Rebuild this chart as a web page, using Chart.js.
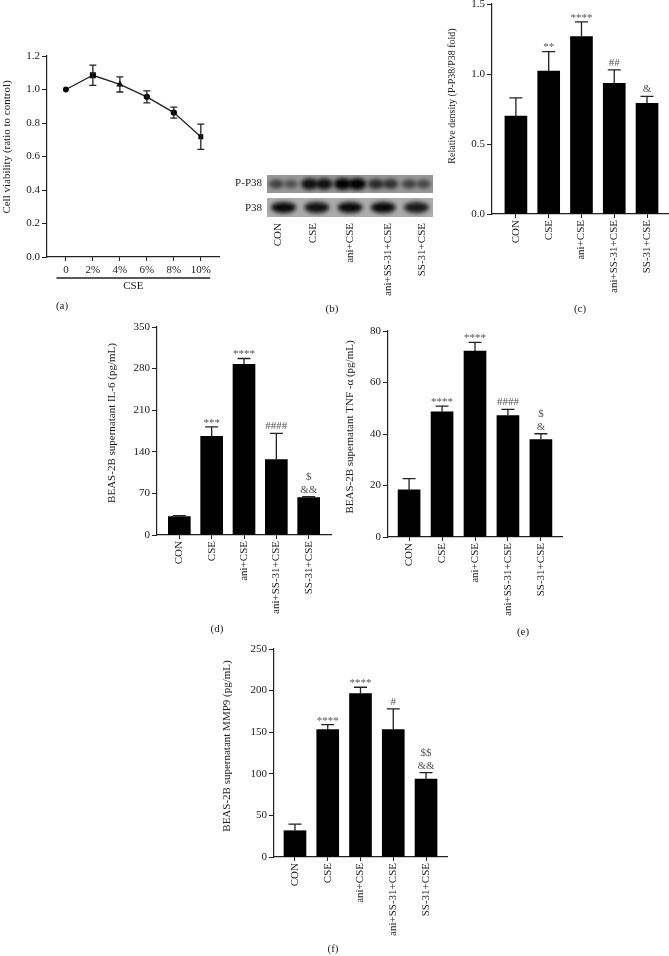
<!DOCTYPE html>
<html>
<head>
<meta charset="utf-8">
<script src="https://cdn.jsdelivr.net/npm/chart.js@4.4.1/dist/chart.umd.min.js"></script>
<style>
  body { margin: 0; background: #fff; }
  #page { position: relative; width: 669px; height: 956px; overflow: hidden; font-family: 'Liberation Serif', 'Times New Roman', serif; }
  canvas { position: absolute; }
  .tag { position: absolute; font-size: 11px; color: #222; transform: translate(-50%, -50%); }
</style>
</head>
<body>
<div id="page">
  <canvas id="ca" width="225" height="260" style="left:0;top:40px"></canvas>
  <canvas id="cb" width="240" height="150" style="left:200px;top:160px"></canvas>
  <canvas id="cc" width="249" height="306" style="left:420px;top:-6px"></canvas>
  <canvas id="cd" width="275" height="306" style="left:60px;top:317px"></canvas>
  <canvas id="ce" width="227" height="306" style="left:340px;top:321px"></canvas>
  <canvas id="cf" width="237" height="306" style="left:215px;top:639px"></canvas>
  <div class="tag" style="left:62px;top:305px">(a)</div>
  <div class="tag" style="left:332px;top:308px">(b)</div>
  <div class="tag" style="left:580px;top:308px">(c)</div>
  <div class="tag" style="left:217px;top:628px">(d)</div>
  <div class="tag" style="left:523px;top:631px">(e)</div>
  <div class="tag" style="left:333px;top:948px">(f)</div>
</div>
<script>
// groups on the x axis of panels b-f
const groups = ['CON', 'CSE', 'ani+CSE', 'ani+SS-31+CSE', 'SS-31+CSE'];

// (a) cell viability vs CSE dose
const cseDoses = ['0', '2%', '4%', '6%', '8%', '10%'];
const viability = [1.0, 1.085, 1.03, 0.956, 0.862, 0.718];
const viabilityErr = [0, 0.06, 0.045, 0.036, 0.033, 0.075];

// (b) blot band strength per lane (two wells per lane for P-P38)
const pP38Bands = [[0.6, 0.5], [0.9, 0.9], [1, 1], [0.75, 0.7], [0.6, 0.55]];
const p38Bands = [0.95, 0.9, 0.95, 0.95, 0.85];

// (c) relative density
const density = [0.70, 1.02, 1.267, 0.934, 0.79];
const densityErr = [0.13, 0.14, 0.105, 0.095, 0.05];
const densityMarks = ['', '**', '****', '##', '&'];

// (d) IL-6
const il6 = [31, 166, 287, 127, 63];
const il6Err = [1.5, 16, 10, 44, 1.5];
const il6Marks = ['', '***', '****', '####', '$\n&&'];

// (e) TNF-a
const tnf = [18.3, 48.6, 72.2, 47.2, 37.8];
const tnfErr = [4.4, 2.2, 3.4, 2.4, 2.3];
const tnfMarks = ['', '****', '****', '####', '$\n&'];

// (f) MMP9
const mmp9 = [31.6, 153, 196.3, 153, 93.8];
const mmp9Err = [8, 6, 7.7, 25, 7.6];
const mmp9Marks = ['', '****', '****', '#', '$$\n&&'];

Chart.defaults.font.family = "'Liberation Serif', 'Times New Roman', serif";
Chart.defaults.font.size = 11;
Chart.defaults.color = '#1a1a1a';

// error bars, significance marks, y title and the CSE bracket
const errPlugin = {
    id: 'errbars',
    afterDatasetsDraw(chart) {
        const ctx = chart.ctx;
        const xs = chart.scales.x, ys = chart.scales.y;
        const ds = chart.data.datasets[0];
        ctx.save();
        ctx.strokeStyle = '#222';
        ctx.lineWidth = 1.3;
        ds.data.forEach((p, i) => {
            const e = ds.errs[i];
            const x = xs.getPixelForValue(p.x);
            const yT = ys.getPixelForValue(p.y + e);
            if (e) {
                const yB = ys.getPixelForValue(ds.both ? p.y - e : p.y);
                ctx.beginPath();
                ctx.moveTo(x, yB); ctx.lineTo(x, yT);
                ctx.moveTo(x - ds.cap, yT); ctx.lineTo(x + ds.cap, yT);
                if (ds.both) { ctx.moveTo(x - ds.cap, yB); ctx.lineTo(x + ds.cap, yB); }
                ctx.stroke();
            }
            const m = (ds.marks || [])[i];
            if (m) {
                const lines = m.split('\n');
                ctx.fillStyle = '#555';
                ctx.font = "11px 'Liberation Serif', serif";
                ctx.textAlign = 'center';
                ctx.textBaseline = 'middle';
                lines.reverse().forEach((t, k) => {
                    const dy = t.indexOf('*') >= 0 ? 4 : 7;
                    ctx.fillText(t, x, yT - dy - k * 12.5);
                });
            }
        });
        if (ds.bracket) {
            const yl = chart.chartArea.bottom + 21;
            ctx.beginPath();
            ctx.moveTo(xs.getPixelForValue(-0.35), yl);
            ctx.lineTo(xs.getPixelForValue(5.35), yl);
            ctx.stroke();
            ctx.fillStyle = '#1a1a1a';
            ctx.font = "11px 'Liberation Serif', serif";
            ctx.textAlign = 'center';
            ctx.textBaseline = 'middle';
            ctx.fillText(ds.bracket, xs.getPixelForValue(2.5), yl + 8);
        }
        const t = ds.ytitle;
        ctx.fillStyle = '#1a1a1a';
        ctx.font = t.size + "px 'Liberation Serif', serif";
        ctx.textAlign = 'center';
        ctx.textBaseline = 'middle';
        ctx.translate(t.x, t.y);
        ctx.rotate(-Math.PI / 2);
        ctx.fillText(t.text, 0, 0);
        ctx.restore();
    }
};

function yAxis(max, step, digits) {
    return {
        min: 0, max: max,
        grid: { drawOnChartArea: false, drawTicks: true, tickLength: 5, color: '#222' },
        border: { color: '#222', width: 1.2 },
        ticks: { stepSize: step, padding: 2, callback: v => v.toFixed(digits) }
    };
}

function barPanel(id, vals, errs, marks, title, box) {
    new Chart(document.getElementById(id), {
        type: 'bar',
        data: {
            datasets: [{
                data: vals.map((v, i) => ({ x: i, y: v })),
                backgroundColor: '#000',
                barThickness: 22,
                errs: errs, marks: marks, cap: 6.5, both: false,
                ytitle: { text: title, x: box.tx, y: box.ty, size: box.ts }
            }]
        },
        options: {
            responsive: false,
            animation: false,
            layout: { padding: { top: box.pt, right: box.pr, left: 0, bottom: 0 } },
            plugins: { legend: { display: false }, tooltip: { enabled: false } },
            scales: {
                x: {
                    type: 'linear', min: box.xmin, max: box.xmax, offset: false,
                    grid: { offset: false, drawOnChartArea: false, drawTicks: true, tickLength: 4, color: '#222' },
                    border: { color: '#222', width: 1.2 },
                    ticks: {
                        stepSize: 1, autoSkip: false, includeBounds: false,
                        minRotation: 90, maxRotation: 90, padding: 2,
                        callback: v => groups[v] ?? ''
                    },
                    afterFit: s => { s.height = box.xh; }
                },
                y: Object.assign(yAxis(box.ymax, box.step, box.digits), {
                    afterFit: s => { s.width = box.yw; }
                })
            }
        },
        plugins: [errPlugin]
    });
}

// (a)
new Chart(document.getElementById('ca'), {
    type: 'line',
    data: {
        datasets: [{
            data: viability.map((v, i) => ({ x: i, y: v })),
            borderColor: '#222', borderWidth: 1.3,
            pointRadius: [2.3, 3.3, 2.8, 2.5, 2.5, 2.5],
            pointStyle: ['circle', 'rect', 'triangle', 'circle', 'circle', 'rect'],
            pointBackgroundColor: '#000', pointBorderColor: '#000',
            errs: viabilityErr, both: true, cap: 3.5, bracket: 'CSE',
            ytitle: { text: 'Cell viability (ratio to control)', x: 7, y: 107, size: 11 }
        }]
    },
    options: {
        responsive: false,
        animation: false,
        layout: { padding: { top: 16, right: 4, left: 0, bottom: 0 } },
        plugins: { legend: { display: false }, tooltip: { enabled: false } },
        scales: {
            x: {
                type: 'linear', min: -0.7, max: 5.7,
                grid: { drawOnChartArea: false, drawTicks: true, tickLength: 4, color: '#222' },
                border: { color: '#222', width: 1.2 },
                ticks: { stepSize: 1, autoSkip: false, includeBounds: false, maxRotation: 0, padding: 3,
                    callback: v => cseDoses[v] ?? '' },
                afterFit: s => { s.height = 43; }
            },
            y: Object.assign(yAxis(1.2, 0.2, 1), {
                afterFit: s => { s.width = 47; }
            })
        }
    },
    plugins: [errPlugin]
});

// (b) blot
(function drawBlot() {
    const ctx = document.getElementById('cb').getContext('2d');
    const x0 = 67, x1 = 233, lw = (x1 - x0) / 5;
    function strip(y0, h, bg, draw) {
        ctx.save();
        ctx.beginPath(); ctx.rect(x0, y0, x1 - x0, h); ctx.clip();
        ctx.fillStyle = bg; ctx.fillRect(x0, y0, x1 - x0, h);
        ctx.filter = 'blur(2px)';
        draw(y0 + h / 2);
        ctx.restore();
    }
    strip(15, 18, '#9a9a9a', yc => {
        pP38Bands.forEach((b, i) => {
            b.forEach((a, j) => {
                ctx.fillStyle = `rgba(0,0,0,${a})`;
                ctx.beginPath();
                ctx.ellipse(x0 + lw * i + lw * (j ? 0.72 : 0.28), yc, 5 + a * 4, 2.5 + a * 3.5, 0, 0, Math.PI * 2);
                ctx.fill();
            });
        });
    });
    strip(38, 19, '#adadad', yc => {
        p38Bands.forEach((a, i) => {
            ctx.fillStyle = `rgba(0,0,0,${a})`;
            ctx.beginPath();
            ctx.ellipse(x0 + lw * (i + 0.5), yc, 12.5, 5.5, 0, 0, Math.PI * 2);
            ctx.fill();
        });
    });
    ctx.fillStyle = '#1a1a1a';
    ctx.font = "11px 'Liberation Serif', serif";
    ctx.textAlign = 'right';
    ctx.textBaseline = 'middle';
    ctx.fillText('P-P38', 62, 23);
    ctx.fillText('P38', 62, 48);
    const laneX = [78, 113, 150, 188, 222];
    groups.forEach((g, i) => {
        ctx.save();
        ctx.translate(laneX[i], 63);
        ctx.rotate(-Math.PI / 2);
        ctx.fillText(g, 0, 0);
        ctx.restore();
    });
})();

// (c)
barPanel('cc', density, densityErr, densityMarks, 'Relative density (P-P38/P38 fold)',
    { pt: 10, pr: 1, xh: 86, yw: 72, tx: 32, ty: 102, ts: 10, xmin: -0.73, xmax: 4.64, ymax: 1.5, step: 0.5, digits: 1 });
// (d)
barPanel('cd', il6, il6Err, il6Marks, 'BEAS-2B supernatant IL-6 (pg/mL)',
    { pt: 10, pr: 4, xh: 88, yw: 97, tx: 52, ty: 106, ts: 11, xmin: -0.69, xmax: 4.69, ymax: 350, step: 70, digits: 0 });
// (e)
barPanel('ce', tnf, tnfErr, tnfMarks, 'BEAS-2B supernatant TNF -\u03b1 (pg/mL)',
    { pt: 10, pr: 5, xh: 90, yw: 48, tx: 10, ty: 106, ts: 11, xmin: -0.64, xmax: 4.64, ymax: 80, step: 20, digits: 0 });
// (f)
barPanel('cf', mmp9, mmp9Err, mmp9Marks, 'BEAS-2B supernatant MMP9 (pg/mL)',
    { pt: 10, pr: 5, xh: 88, yw: 59, tx: 12, ty: 107, ts: 11, xmin: -0.64, xmax: 4.64, ymax: 250, step: 50, digits: 0 });
</script>
</body>
</html>
